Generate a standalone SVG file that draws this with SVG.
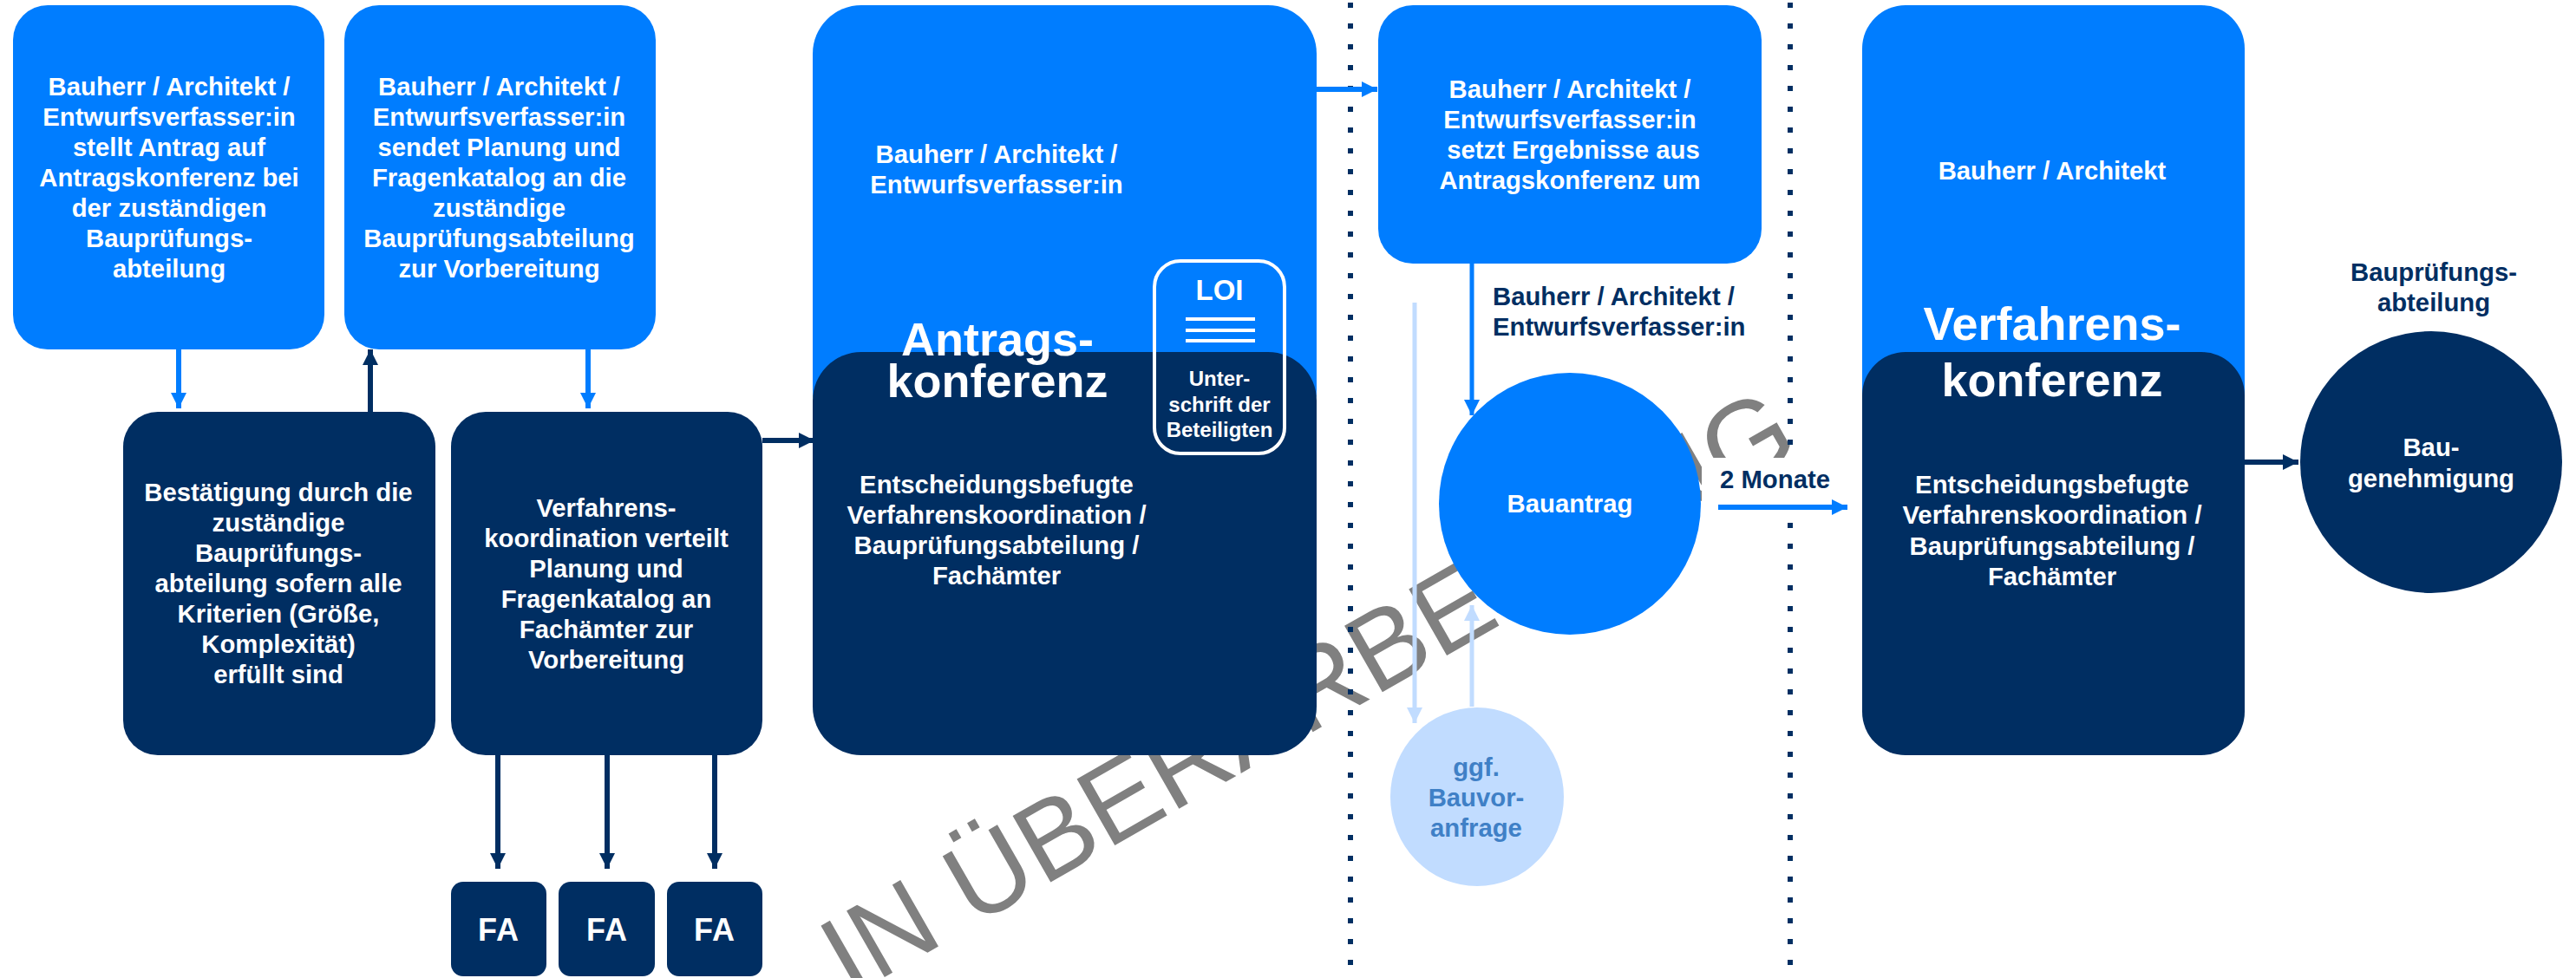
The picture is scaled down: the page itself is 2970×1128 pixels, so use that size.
<svg xmlns="http://www.w3.org/2000/svg" width="2970" height="1128" viewBox="0 0 2970 1128">
<style>
text{font-family:"Liberation Sans",Arial,sans-serif;font-weight:700;text-anchor:middle;font-size:29.3px;fill:#fff}
.b{fill:#007dff}.n{fill:#002e62}.l{fill:#c1dcff}
.d{fill:#002e62}.lt{fill:#3f80c6}
.big{font-size:54px}
.fa{font-size:36px;letter-spacing:1px}
.lb{stroke:#007dff;stroke-width:6;fill:none}
.ln{stroke:#002e62;stroke-width:6;fill:none}
.ll{stroke:#c1dcff;stroke-width:5;fill:none}
.dot{stroke:#002e62;stroke-width:6;stroke-dasharray:6 18;fill:none}
</style>
<defs>
<marker id="hb" markerUnits="userSpaceOnUse" markerWidth="20" markerHeight="20" refX="18" refY="9" orient="auto"><path d="M0 0L18 9L0 18z" fill="#007dff"/></marker>
<marker id="hn" markerUnits="userSpaceOnUse" markerWidth="20" markerHeight="20" refX="18" refY="9" orient="auto"><path d="M0 0L18 9L0 18z" fill="#002e62"/></marker>
<marker id="hl" markerUnits="userSpaceOnUse" markerWidth="20" markerHeight="20" refX="18" refY="9" orient="auto"><path d="M0 0L18 9L0 18z" fill="#c1dcff"/></marker>
</defs>
<text id="watermark" transform="translate(980 1150) rotate(-29.8)" style="font-size:128px;font-weight:400;fill:#808080;text-anchor:start">IN ÜBERARBEITUNG</text>
<g id="dividers"><path class="dot" d="M1557 3V1116"/><path class="dot" d="M2064 3V1116"/></g>
<g id="label-2-monate"><rect x="1962" y="528" width="169" height="72" fill="#fff"/><text class="d" x="2046.500" y="563">2 Monate</text></g>
<g id="connectors-back"><path class="lb" style="stroke-width:5" d="M1697 304V479" marker-end="url(#hb)"/></g>
<g id="n1"><rect class="b" x="15" y="6" width="359" height="397" rx="40"/><text x="195" y="110">Bauherr / Architekt /</text><text x="195" y="145">Entwurfsverfasser:in</text><text x="195" y="180">stellt Antrag auf</text><text x="195" y="215">Antragskonferenz bei</text><text x="195" y="250">der zuständigen</text><text x="195" y="285">Bauprüfungs-</text><text x="195" y="320">abteilung</text></g>
<g id="n2"><rect class="b" x="397" y="6" width="359" height="397" rx="40"/><text x="575.500" y="110">Bauherr / Architekt /</text><text x="575.500" y="145">Entwurfsverfasser:in</text><text x="575.500" y="180">sendet Planung und</text><text x="575.500" y="215">Fragenkatalog an die</text><text x="575.500" y="250">zuständige</text><text x="575.500" y="285">Bauprüfungsabteilung</text><text x="575.500" y="320">zur Vorbereitung</text></g>
<g id="n3"><rect class="n" x="142" y="475" width="360" height="396" rx="40"/><text x="321" y="578">Bestätigung durch die</text><text x="321" y="613">zuständige</text><text x="321" y="648">Bauprüfungs-</text><text x="321" y="683">abteilung sofern alle</text><text x="321" y="718">Kriterien (Größe,</text><text x="321" y="753">Komplexität)</text><text x="321" y="788">erfüllt sind</text></g>
<g id="n4"><rect class="n" x="520" y="475" width="359" height="396" rx="40"/><text x="699" y="596">Verfahrens-</text><text x="699" y="631">koordination verteilt</text><text x="699" y="666">Planung und</text><text x="699" y="701">Fragenkatalog an</text><text x="699" y="736">Fachämter zur</text><text x="699" y="771">Vorbereitung</text></g>
<g id="fa1"><rect class="n" x="520" y="1017" width="110" height="109" rx="14"/><text class="fa" x="575" y="1085">FA</text></g>
<g id="fa2"><rect class="n" x="644" y="1017" width="111" height="109" rx="14"/><text class="fa" x="700" y="1085">FA</text></g>
<g id="fa3"><rect class="n" x="769" y="1017" width="110" height="109" rx="14"/><text class="fa" x="824" y="1085">FA</text></g>
<g id="antragskonferenz"><rect class="b" x="937" y="6" width="581" height="500" rx="56"/><rect class="n" x="937" y="406" width="581" height="465" rx="56"/><text x="1149" y="188">Bauherr / Architekt /</text><text x="1149" y="223">Entwurfsverfasser:in</text><text class="big" x="1150" y="410">Antrags-</text><text class="big" x="1150" y="458">konferenz</text><text x="1149" y="569">Entscheidungsbefugte</text><text x="1149" y="604">Verfahrenskoordination /</text><text x="1149" y="639">Bauprüfungsabteilung /</text><text x="1149" y="674">Fachämter</text></g>
<g id="loi"><rect x="1331" y="301" width="150" height="222" rx="30" fill="none" stroke="#fff" stroke-width="4"/><text style="font-size:33px" x="1406" y="346">LOI</text><path d="M1367 368H1447M1367 381H1447M1367 393H1447" stroke="#fff" stroke-width="4"/><text style="font-size:24px" x="1406" y="445">Unter-</text><text style="font-size:24px" x="1406" y="475">schrift der</text><text style="font-size:24px" x="1406" y="504">Beteiligten</text></g>
<g id="n5"><rect class="b" x="1589" y="6" width="442" height="298" rx="40"/><text x="1810" y="113">Bauherr / Architekt /</text><text x="1810" y="148">Entwurfsverfasser:in</text><text x="1814" y="183">setzt Ergebnisse aus</text><text x="1810" y="218">Antragskonferenz um</text></g>
<g id="label-bauherr"><text class="d" style="text-anchor:start" x="1721" y="352">Bauherr / Architekt /</text><text class="d" style="text-anchor:start" x="1721" y="387">Entwurfsverfasser:in</text></g>
<g id="bauantrag"><circle class="b" cx="1810" cy="581" r="151"/><text x="1810" y="591">Bauantrag</text></g>
<g id="bauvoranfrage"><ellipse class="l" cx="1703" cy="919" rx="100" ry="103"/><text class="lt" x="1702" y="895">ggf.</text><text class="lt" x="1702" y="930">Bauvor-</text><text class="lt" x="1702" y="965">anfrage</text></g>
<g id="verfahrenskonferenz"><rect class="b" x="2147" y="6" width="441" height="500" rx="50"/><rect class="n" x="2147" y="406" width="441" height="465" rx="50"/><text x="2366" y="207">Bauherr / Architekt</text><text class="big" x="2366" y="392">Verfahrens-</text><text class="big" x="2366" y="457">konferenz</text><text x="2366" y="569">Entscheidungsbefugte</text><text x="2366" y="604">Verfahrenskoordination /</text><text x="2366" y="640">Bauprüfungsabteilung /</text><text x="2366" y="675">Fachämter</text></g>
<g id="baugenehmigung"><circle class="n" cx="2803" cy="533" r="151"/><text x="2803" y="526">Bau-</text><text x="2803" y="562">genehmigung</text></g>
<g id="label-bauabt"><text class="d" x="2806" y="324">Bauprüfungs-</text><text class="d" x="2806" y="359">abteilung</text></g>
<g id="connectors">
<path class="lb" d="M206 403V471" marker-end="url(#hb)"/>
<path class="ln" d="M427 475V403" marker-end="url(#hn)"/>
<path class="lb" d="M678 403V471" marker-end="url(#hb)"/>
<path class="ln" d="M879 508H939" marker-end="url(#hn)"/>
<path class="ln" d="M574 871V1002" marker-end="url(#hn)"/>
<path class="ln" d="M700 871V1002" marker-end="url(#hn)"/>
<path class="ln" d="M824 871V1002" marker-end="url(#hn)"/>
<path class="lb" d="M1518 103H1588" marker-end="url(#hb)"/>
<path class="ll" d="M1631 349V834" marker-end="url(#hl)"/>
<path class="ll" d="M1697 815V698" marker-end="url(#hl)"/>
<path class="lb" d="M1981 585H2130" marker-end="url(#hb)"/>
<path class="ln" d="M2588 533H2650" marker-end="url(#hn)"/>
</g>
</svg>
